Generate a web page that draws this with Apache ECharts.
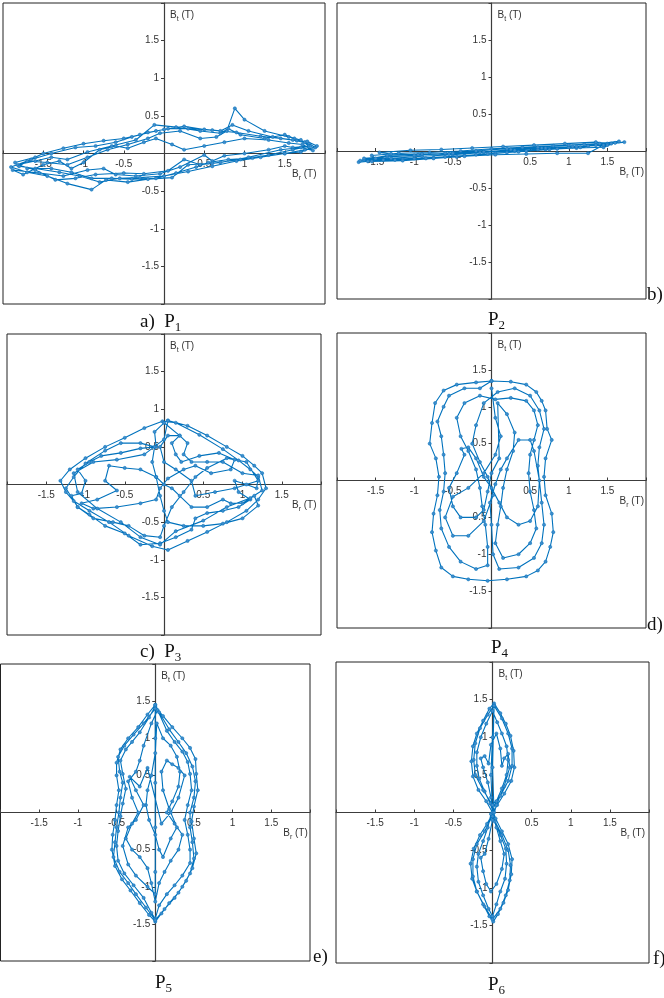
<!DOCTYPE html>
<html>
<head>
<meta charset="utf-8">
<script src="https://cdn.jsdelivr.net/npm/echarts@6/dist/echarts.min.js"></script>
<style>
  html, body { margin: 0; padding: 0; background: #fff; }
  #chart { width: 664px; height: 998px; }
</style>
</head>
<body>
<div id="chart"></div>
<script>
// Flux-density loci (radial Br vs tangential Bt, in tesla) at six points P1..P6.

const P1_LOCUS = [
  [-1.85,-0.12],[-1.6,-0.05],[-1.5,0.0],[-1.25,0.07],[-1.0,0.13],[-0.75,0.17],[-0.5,0.2],[-0.3,0.25],[-0.1,0.3],[0.05,0.33],
  [0.3,0.33],[0.6,0.31],[0.9,0.28],[1.2,0.23],[1.45,0.2],[1.65,0.17],[1.8,0.13],[1.88,0.08],[1.75,0.05],[1.5,0.0],
  [1.2,-0.05],[0.9,-0.1],[0.6,-0.17],[0.3,-0.24],[0.0,-0.3],[-0.3,-0.32],[-0.55,-0.33],[-0.8,-0.38],[-1.05,-0.3],[-1.3,-0.25],
  [-1.6,-0.2],[-1.8,-0.17],
  [-1.7,-0.1],[-1.45,-0.12],[-1.2,-0.15],[-0.95,-0.05],[-0.7,0.05],[-0.45,0.12],[-0.2,0.2],[-0.05,0.27],[0.2,0.3],[0.45,0.2],
  [0.65,0.22],[0.78,0.3],[0.88,0.6],[1.0,0.45],[1.25,0.3],[1.55,0.22],[1.7,0.18],[1.8,0.1],[1.6,0.08],[1.5,0.1],
  [1.3,0.05],[1.0,0.0],[0.75,-0.03],[0.6,-0.1],[0.5,-0.02],[0.2,-0.18],[-0.05,-0.27],[-0.35,-0.3],[-0.6,-0.28],[-0.75,-0.2],
  [-0.95,-0.22],[-1.25,-0.3],[-1.55,-0.26],[-1.88,-0.22],
  [-1.75,-0.28],[-1.5,-0.15],[-1.3,-0.1],[-1.15,-0.2],[-1.0,-0.12],[-0.8,0.05],[-0.6,0.1],[-0.45,0.07],[-0.25,0.15],[-0.1,0.2],
  [0.1,0.12],[0.25,0.05],[0.5,0.1],[0.75,0.15],[1.0,0.2],[1.3,0.18],[1.55,0.14],[1.72,0.12],[1.85,0.04],[1.7,0.08],
  [1.45,0.05],[1.05,-0.05],[0.7,-0.12],[0.45,-0.15],[0.25,-0.08],[0.05,-0.23],[-0.25,-0.27],[-0.5,-0.26],[-0.85,-0.28],[-1.1,-0.33],
  [-1.35,-0.35],[-1.6,-0.22],[-1.82,-0.15],
  [-1.6,-0.1],[-1.4,-0.05],[-1.2,-0.08],[-0.95,0.02],[-0.65,0.1],[-0.35,0.18],[-0.12,0.38],[0.15,0.35],[0.45,0.3],[0.7,0.27],
  [0.8,0.33],[0.95,0.25],[1.25,0.2],[1.5,0.25],[1.62,0.2],[1.75,0.15],[1.82,0.1],[1.6,0.05],[1.3,-0.02],[0.95,-0.08],
  [0.6,-0.13],[0.3,-0.15],[0.1,-0.32],[-0.2,-0.34],[-0.45,-0.38],[-0.72,-0.35],[-0.9,-0.48],[-1.2,-0.4],[-1.45,-0.3],[-1.7,-0.25],
  [-1.9,-0.18],[-1.65,-0.08],[-1.4,0.0],[-1.1,0.08],[-0.85,0.1],[-0.6,0.15],[-0.4,0.22],[-0.2,0.28],[0.0,0.32],[0.25,0.36],
  [0.5,0.32],[0.7,0.3],[0.85,0.38],[1.05,0.3],[1.35,0.22],[1.6,0.18],[1.78,0.16],[1.9,0.1],[1.7,0.02],[1.5,0.0],
  [1.1,-0.06],[0.8,-0.08],[0.55,-0.12],[0.4,-0.18],[0.15,-0.26],[-0.1,-0.33],[-0.4,-0.34],[-0.65,-0.33],[-0.9,-0.33],[-1.15,-0.25],
  [-1.4,-0.2],[-1.7,-0.2]
];

const P2_LOCUS = [
  [-1.72,-0.15],[-1.4,-0.12],[-1.0,-0.1],[-0.6,-0.08],[-0.2,-0.05],[0.2,-0.02],[0.6,0.02],[1.0,0.05],[1.35,0.08],[1.72,0.12],
  [1.55,0.1],[1.2,0.09],[0.8,0.07],[0.4,0.05],[0.0,0.03],[-0.4,0.0],[-0.8,-0.02],[-1.2,-0.03],[-1.55,-0.06],
  [-1.5,-0.1],[-1.15,-0.11],[-0.75,-0.09],[-0.35,-0.06],[0.05,-0.03],[0.45,0.0],[0.85,0.03],[1.25,0.07],[1.6,0.11],
  [1.45,0.05],[1.1,0.04],[0.7,0.02],[0.3,0.0],[-0.1,-0.02],[-0.5,-0.05],[-0.9,-0.07],[-1.3,-0.1],[-1.65,-0.12],
  [-1.6,-0.14],[-1.25,-0.12],[-0.85,-0.1],[-0.45,-0.08],[-0.05,-0.04],[0.35,-0.01],[0.75,0.02],[1.15,0.05],[1.5,0.1],
  [1.35,0.12],[0.95,0.1],[0.55,0.08],[0.15,0.06],[-0.25,0.04],[-0.65,0.02],[-1.05,0.01],[-1.45,-0.02],
  [-1.3,-0.04],[-0.95,-0.05],[-0.55,-0.04],[-0.15,-0.02],[0.25,0.02],[0.65,0.04],[1.05,0.06],[1.45,0.08],
  [1.25,-0.03],[0.85,-0.03],[0.45,-0.04],[0.05,-0.05],[-0.35,-0.07],[-0.75,-0.1],[-1.15,-0.13],[-1.55,-0.14],
  [-1.65,-0.1],[-1.35,-0.08],[-1.0,-0.06],[-0.6,-0.03],[-0.2,0.0],[0.2,0.03],[0.6,0.05],[1.0,0.08],[1.4,0.1],[1.65,0.13],
  [1.5,0.08],[1.1,0.06],[0.7,0.04],[0.3,0.01],[-0.1,-0.01],[-0.5,-0.03],[-0.9,-0.04],[-1.35,-0.06],[-1.7,-0.13]
];

const P3_LOCUS = [
  [0.05,0.85],[0.3,0.78],[0.55,0.65],[0.8,0.5],[1.0,0.38],[1.15,0.25],[1.25,0.15],[1.3,-0.05],[1.2,-0.2],[1.05,-0.35],
  [0.8,-0.5],[0.55,-0.63],[0.3,-0.75],[0.05,-0.87],[-0.15,-0.82],[-0.45,-0.68],[-0.7,-0.5],[-0.95,-0.35],[-1.15,-0.22],[-1.25,-0.1],
  [-1.32,0.05],[-1.2,0.2],[-1.0,0.35],[-0.75,0.5],[-0.5,0.62],[-0.25,0.75],[-0.02,0.84],
  [0.15,0.82],[0.45,0.66],[0.75,0.47],[0.95,0.32],[1.1,0.2],[1.2,0.1],[1.18,-0.05],[1.05,0.0],[0.9,0.05],[0.95,-0.1],
  [1.1,-0.2],[0.95,-0.3],[0.75,-0.35],[0.55,-0.38],[0.4,-0.45],[0.35,-0.6],[0.15,-0.7],[-0.05,-0.78],[-0.3,-0.8],[-0.5,-0.65],
  [-0.75,-0.55],[-0.95,-0.4],[-1.1,-0.3],[-1.18,-0.15],[-1.05,-0.12],[-1.0,0.05],[-1.1,0.2],[-0.95,0.3],[-0.8,0.38],[-0.55,0.42],
  [-0.3,0.48],[-0.1,0.5],[-0.12,0.7],[0.0,0.82],
  [0.2,0.65],[0.1,0.55],[0.15,0.4],[0.22,0.3],[0.45,0.38],[0.7,0.42],[0.9,0.33],[0.85,0.2],[0.6,0.15],[0.4,0.25],
  [0.25,0.2],[0.05,0.08],[-0.05,-0.05],[-0.1,-0.2],[-0.3,-0.25],[-0.6,-0.3],[-0.9,-0.32],[-1.05,-0.25],[-0.85,-0.2],[-0.6,-0.08],
  [-0.75,0.05],[-0.7,0.25],[-0.5,0.22],[-0.3,0.2],[-0.1,0.1],[0.0,0.0],[0.1,-0.05],[0.2,-0.15],[0.35,-0.3],[0.55,-0.3],
  [0.75,-0.2],[0.85,-0.25],[1.0,-0.25],[1.15,-0.15],
  [1.2,-0.28],[1.0,-0.45],[0.75,-0.52],[0.5,-0.55],[0.25,-0.55],[0.05,-0.5],[0.0,-0.35],[-0.05,-0.15],[-0.1,0.1],[-0.15,0.3],
  [-0.12,0.5],[-0.3,0.55],[-0.55,0.55],[-0.75,0.45],[-1.0,0.28],[-1.15,0.1],[-1.25,-0.05],[-1.1,-0.3],[-0.9,-0.45],[-0.65,-0.5],
  [-0.45,-0.55],[-0.25,-0.68],[-0.05,-0.7],[0.0,-0.55],[0.1,-0.3],[0.25,-0.1],[0.4,0.1],[0.55,0.22],[0.8,0.35],[1.05,0.3],
  [1.2,0.05],
  [0.9,-0.05],[0.65,-0.1],[0.4,-0.15],[0.35,0.05],[0.15,0.2],[0.0,0.3],[-0.05,0.5],[0.05,0.65],[0.2,0.65],[0.3,0.55],
  [0.25,0.4],[0.35,0.3],[0.55,0.3],[0.75,0.3],[1.0,0.15],[1.2,0.12],[1.25,-0.08],[1.1,-0.18],[0.8,-0.3],[0.5,-0.48],
  [0.15,-0.62],[-0.05,-0.8],[-0.3,-0.7],[-0.55,-0.5],[-0.85,-0.32],[-1.1,-0.1],[-1.15,0.15],[-0.9,0.3],[-0.6,0.33],[-0.25,0.4],
  [0.0,0.6],[0.05,0.85]
];

const P4_LOCUS = [
  [0.0,1.35],[0.25,1.34],[0.45,1.3],[0.58,1.2],[0.65,1.08],[0.7,0.95],[0.72,0.7],[0.78,0.55],[0.7,0.3],[0.68,0.05],
  [0.7,-0.2],[0.78,-0.45],[0.8,-0.7],[0.76,-0.9],[0.7,-1.1],[0.6,-1.22],[0.45,-1.3],[0.2,-1.34],[-0.05,-1.36],[-0.3,-1.34],
  [-0.5,-1.3],[-0.65,-1.18],[-0.72,-0.95],[-0.77,-0.7],[-0.75,-0.45],[-0.7,-0.2],[-0.68,0.05],[-0.72,0.3],[-0.8,0.5],[-0.77,0.78],
  [-0.73,1.05],[-0.62,1.22],[-0.45,1.3],[-0.2,1.33],[0.0,1.35],
  [-0.15,1.25],[-0.35,1.25],[-0.55,1.15],[-0.62,1.0],[-0.7,0.8],[-0.65,0.6],[-0.62,0.35],[-0.6,0.1],[-0.62,-0.15],[-0.67,-0.4],
  [-0.65,-0.65],[-0.55,-0.9],[-0.4,-1.1],[-0.2,-1.2],[-0.05,-1.15],[-0.05,-0.9],[-0.08,-0.6],[-0.12,-0.35],[-0.15,-0.1],[-0.2,0.15],
  [-0.3,0.4],[-0.4,0.6],[-0.45,0.85],[-0.35,1.05],[-0.15,1.15],
  [0.05,1.1],[0.25,1.12],[0.45,1.08],[0.55,0.95],[0.6,0.75],[0.55,0.55],[0.5,0.35],[0.48,0.1],[0.5,-0.15],[0.55,-0.4],
  [0.58,-0.65],[0.5,-0.85],[0.35,-1.0],[0.15,-1.05],[0.05,-0.85],[0.08,-0.6],[0.12,-0.35],[0.15,-0.1],[0.2,0.15],[0.28,0.4],
  [0.3,0.65],[0.2,0.9],[0.08,1.05],
  [0.1,0.3],[0.0,0.1],[-0.05,-0.15],[-0.1,-0.4],[-0.2,-0.5],[-0.4,-0.5],[-0.5,-0.35],[-0.55,-0.1],[-0.45,0.1],[-0.35,0.35],
  [-0.39,0.43],[-0.3,0.45],[-0.2,0.3],[-0.1,0.05],[0.0,-0.1],[0.1,-0.3],[0.2,-0.5],[0.35,-0.6],[0.5,-0.55],[0.6,-0.35],
  [0.62,0.0],[0.55,0.4],[0.5,0.55],[0.35,0.55],[0.2,0.3],[0.12,0.15],[0.05,-0.05],[-0.02,-0.3],[0.0,-0.6],[0.02,-1.0],
  [0.1,-1.2],[0.35,-1.18],[0.55,-1.05],[0.65,-0.85],[0.68,-0.6],[0.65,-0.3],
  [0.6,0.2],[0.62,0.45],[0.68,0.7],[0.62,0.95],[0.5,1.15],[0.3,1.25],[0.08,1.2],[-0.1,1.05],[-0.2,0.75],[-0.25,0.5],
  [-0.15,0.25],[-0.05,0.05],[0.02,-0.2],[-0.1,-0.55],[-0.3,-0.75],[-0.5,-0.75],[-0.6,-0.5],[-0.5,-0.22],[-0.3,-0.1],[-0.1,0.1],
  [0.05,0.35],[0.12,0.6],[0.05,0.85],[0.0,1.25]
];

const P5_LOCUS = [
  [0.0,1.45],[-0.1,1.32],[-0.22,1.15],[-0.35,1.0],[-0.45,0.85],[-0.5,0.67],[-0.5,0.5],[-0.47,0.3],[-0.5,0.1],[-0.52,-0.1],
  [-0.55,-0.3],[-0.56,-0.5],[-0.52,-0.72],[-0.43,-0.9],[-0.32,-1.05],[-0.2,-1.22],[-0.08,-1.38],[0.0,-1.47],
  [0.08,-1.36],[0.18,-1.22],[0.3,-1.08],[0.4,-0.92],[0.48,-0.75],[0.53,-0.55],[0.5,-0.35],[0.47,-0.12],[0.5,0.08],[0.55,0.3],
  [0.53,0.52],[0.52,0.72],[0.45,0.87],[0.35,1.0],[0.22,1.15],[0.1,1.3],[0.0,1.43],
  [-0.08,1.28],[-0.2,1.08],[-0.3,0.95],[-0.38,0.85],[-0.45,0.7],[-0.42,0.52],[-0.38,0.32],[-0.42,0.12],[-0.45,-0.05],[-0.48,-0.25],
  [-0.5,-0.45],[-0.48,-0.65],[-0.4,-0.82],[-0.28,-0.98],[-0.15,-1.15],[-0.05,-1.35],[0.0,-1.43],
  [0.05,-1.25],[0.15,-1.1],[0.25,-0.98],[0.35,-0.85],[0.45,-0.68],[0.45,-0.5],[0.42,-0.3],[0.38,-0.1],[0.42,0.1],[0.47,0.3],
  [0.45,0.52],[0.42,0.68],[0.35,0.82],[0.25,0.95],[0.15,1.1],[0.03,1.38],
  [-0.05,1.2],[-0.15,0.9],[-0.2,0.7],[-0.25,0.55],[-0.35,0.42],[-0.3,0.2],[-0.22,0.0],[-0.3,-0.15],[-0.38,-0.35],[-0.3,-0.5],
  [-0.2,-0.6],[-0.1,-0.75],[-0.05,-0.95],[0.0,-1.2],
  [0.05,-0.95],[0.12,-0.8],[0.2,-0.65],[0.3,-0.5],[0.35,-0.3],[0.25,-0.15],[0.15,0.0],[0.22,0.15],[0.3,0.35],[0.32,0.55],
  [0.28,0.75],[0.2,0.9],[0.1,1.0],[0.02,1.2],
  [0.0,0.8],[-0.05,0.5],[-0.1,0.3],[-0.12,0.1],[-0.08,-0.1],[0.0,-0.3],[0.05,-0.5],[0.1,-0.6],[0.2,-0.35],[0.28,-0.2],
  [0.18,0.05],[0.1,0.3],[0.08,0.55],[0.15,0.7],[0.22,0.65],[0.3,0.6],[0.38,0.5],
  [0.3,0.2],[0.2,0.0],[0.08,-0.15],[-0.1,0.6],[-0.2,0.35],[-0.33,0.48],[-0.25,0.3],[-0.15,0.1],[-0.25,-0.1],[-0.35,-0.2],
  [-0.42,-0.45],[-0.35,-0.7],[-0.25,-0.85],[-0.1,-1.0],[0.0,-1.1],
  [0.0,-0.8],[0.0,-0.2],[0.0,0.4],[0.0,1.0],[0.0,1.4],
  [-0.15,1.2],[-0.28,1.05],[-0.4,0.9],[-0.48,0.75],[-0.46,0.55],[-0.42,0.4],[-0.45,0.2],[-0.47,0.0],[-0.5,-0.2],[-0.52,-0.4],
  [-0.54,-0.6],[-0.46,-0.8],[-0.35,-0.95],[-0.25,-1.1],[-0.12,-1.28],[0.0,-1.45],[0.12,-1.3],[0.25,-1.15],[0.35,-1.0],[0.45,-0.82],
  [0.5,-0.62],[0.48,-0.4],[0.45,-0.2],[0.45,0.0],[0.5,0.2],[0.52,0.42],[0.48,0.62],[0.4,0.8],[0.3,0.95],[0.18,1.12],
  [0.05,1.35],[0.0,1.45]
];

const P6_LOCUS = [
  [0.0,0.0],[-0.08,0.15],[-0.18,0.3],[-0.25,0.48],[-0.27,0.68],[-0.25,0.88],[-0.2,1.05],[-0.12,1.22],[-0.04,1.38],[0.02,1.45],
  [0.1,1.32],[0.17,1.18],[0.23,1.02],[0.27,0.82],[0.28,0.6],[0.24,0.42],[0.15,0.25],[0.06,0.1],[0.0,-0.02],
  [-0.07,-0.15],[-0.16,-0.3],[-0.24,-0.48],[-0.28,-0.68],[-0.26,-0.88],[-0.2,-1.05],[-0.12,-1.22],[-0.04,-1.38],[0.01,-1.45],
  [0.07,-1.35],[0.14,-1.2],[0.2,-1.03],[0.24,-0.82],[0.25,-0.62],[0.2,-0.42],[0.12,-0.25],[0.04,-0.08],
  [-0.03,0.12],[-0.1,0.28],[-0.17,0.45],[-0.2,0.62],[-0.2,0.8],[-0.15,1.0],[-0.08,1.18],[0.0,1.35],[0.06,1.2],[0.12,1.05],
  [0.18,0.88],[0.2,0.7],[0.18,0.5],[0.12,0.32],[0.05,0.15],[-0.02,-0.02],
  [-0.06,-0.2],[-0.12,-0.38],[-0.18,-0.55],[-0.2,-0.72],[-0.18,-0.92],[-0.12,-1.1],[-0.05,-1.28],[0.0,-1.38],[0.05,-1.22],[0.1,-1.05],
  [0.16,-0.88],[0.18,-0.68],[0.17,-0.48],[0.1,-0.3],[0.03,-0.12],
  [-0.02,0.2],[-0.06,0.4],[-0.12,0.6],[-0.15,0.72],[-0.1,0.75],[-0.05,0.65],[-0.02,0.9],[0.05,1.05],[0.1,0.85],[0.12,0.62],
  [0.15,0.72],[0.2,0.78],[0.22,0.6],[0.15,0.35],[0.05,0.1],[0.0,-0.1],
  [-0.05,-0.35],[-0.1,-0.55],[-0.15,-0.6],[-0.12,-0.78],[-0.08,-0.95],[-0.02,-1.05],[0.05,-0.95],[0.12,-0.75],[0.15,-0.55],[0.1,-0.38],
  [0.05,-0.2],[0.0,0.0],[-0.02,0.5],[0.0,1.0],[0.02,1.42],
  [-0.06,1.3],[-0.16,1.12],[-0.22,0.92],[-0.24,0.7],[-0.22,0.5],[-0.12,0.3],[0.0,0.1],[0.1,0.22],[0.2,0.42],[0.25,0.62],
  [0.25,0.85],[0.2,1.05],[0.12,1.25],[0.02,1.42],[0.0,0.6],[0.02,0.0],[-0.1,-0.25],[-0.2,-0.42],[-0.25,-0.62],[-0.25,-0.85],
  [-0.2,-1.05],[-0.1,-1.25],[0.0,-1.42],[0.1,-1.28],[0.17,-1.1],[0.22,-0.9],[0.23,-0.7],[0.2,-0.5],[0.12,-0.3],[0.0,-0.05]
];

const LOCI = [P1_LOCUS, P2_LOCUS, P3_LOCUS, P4_LOCUS, P5_LOCUS, P6_LOCUS];

// Panel captions: letter tags and point names
const CAPTIONS = [
  { text: 'a)  P{s|1}', x: 140, y: 322 },
  { text: 'b)',         x: 647, y: 295 },
  { text: 'P{s|2}',     x: 488, y: 320 },
  { text: 'c)  P{s|3}', x: 140, y: 652 },
  { text: 'd)',         x: 647, y: 625 },
  { text: 'P{s|4}',     x: 491, y: 648 },
  { text: 'e)',         x: 313, y: 957 },
  { text: 'P{s|5}',     x: 155, y: 983 },
  { text: 'f)',         x: 653, y: 959 },
  { text: 'P{s|6}',     x: 488, y: 985 }
];

// Plot frames (pixel layout of each axes box)
const FRAMES = [
  { left: 3,   top: 3,   width: 322, height: 301 },
  { left: 337, top: 3,   width: 309, height: 296 },
  { left: 7,   top: 334, width: 314, height: 301 },
  { left: 337, top: 333, width: 309, height: 295 },
  { left: 0.5, top: 664, width: 309.5, height: 297 },
  { left: 336, top: 662, width: 313, height: 301 }
];

const AXIS_COLOR = '#3c3c3c';
const LINE_COLOR = '#0072BD';
const MARKER_COLOR = '#3f8ccb';
const SANS = '"Liberation Sans", Arial, sans-serif';
const SERIF = '"Liberation Serif", "Times New Roman", serif';

function tickText(v) {
  if (v === 0 || Math.abs(v) >= 2) return '';
  return String(v);
}

const chart = echarts.init(document.getElementById('chart'), null, { renderer: 'canvas' });

const grids = FRAMES.map(f => ({
  left: f.left, top: f.top, width: f.width, height: f.height,
  containLabel: false, outerBoundsMode: 'none',
  show: true, borderColor: '#222', borderWidth: 1, backgroundColor: 'transparent'
}));

// The axes run through the middle of each box: shift them inward by half the box size.
const xAxes = FRAMES.map((f, i) => ({
  type: 'value', gridIndex: i, min: -2, max: 2, interval: 0.5,
  position: 'bottom', offset: -f.height / 2,
  axisLine: { onZero: false, lineStyle: { color: AXIS_COLOR, width: 1.2 } },
  axisTick: { show: true, inside: true, length: 3, lineStyle: { color: AXIS_COLOR } },
  axisLabel: { formatter: tickText, fontSize: 10, color: '#333', margin: 6, fontFamily: SANS },
  splitLine: { show: false }
}));

const yAxes = FRAMES.map((f, i) => ({
  type: 'value', gridIndex: i, min: -2, max: 2, interval: 0.5,
  position: 'left', offset: -f.width / 2,
  axisLine: { onZero: false, lineStyle: { color: AXIS_COLOR, width: 1.2 } },
  axisTick: { show: true, inside: false, length: 3, lineStyle: { color: AXIS_COLOR } },
  axisLabel: { formatter: tickText, fontSize: 10, color: '#333', margin: 5, fontFamily: SANS },
  splitLine: { show: false }
}));

const series = LOCI.map((d, i) => ({
  type: 'line', xAxisIndex: i, yAxisIndex: i, data: d,
  symbol: 'circle', symbolSize: 3.2, showAllSymbol: true,
  lineStyle: { width: 1.1, color: LINE_COLOR },
  itemStyle: { color: MARKER_COLOR, borderColor: LINE_COLOR, borderWidth: 0.5 },
  silent: true, clip: false, z: 3
}));

const subRich = { s: { fontSize: 7, fontFamily: SANS, fill: '#333', verticalAlign: 'bottom' } };
const graphics = [];
FRAMES.forEach(f => {
  const zx = f.left + f.width / 2;
  const zy = f.top + f.height / 2;
  graphics.push({
    type: 'text', x: zx + 6, y: f.top + 12, z: 10,
    style: { text: 'B{s|t} (T)', font: '10px ' + SANS, fill: '#333', verticalAlign: 'middle', align: 'left', lineHeight: 15, rich: subRich }
  });
  graphics.push({
    type: 'text', x: zx + 128, y: zy + 21, z: 10,
    style: { text: 'B{s|r} (T)', font: '10px ' + SANS, fill: '#333', verticalAlign: 'middle', align: 'left', lineHeight: 15, rich: subRich }
  });
});
CAPTIONS.forEach(c => {
  graphics.push({
    type: 'text', x: c.x, y: c.y, z: 10,
    style: {
      text: c.text, font: '19px ' + SERIF, fill: '#111', verticalAlign: 'middle', align: 'left', lineHeight: 24,
      rich: { s: { fontSize: 13, fontFamily: SERIF, fill: '#111', verticalAlign: 'bottom' } }
    }
  });
});

chart.setOption({
  animation: false,
  backgroundColor: '#fff',
  grid: grids,
  xAxis: xAxes,
  yAxis: yAxes,
  series: series,
  graphic: graphics
});
</script>
</body>
</html>
